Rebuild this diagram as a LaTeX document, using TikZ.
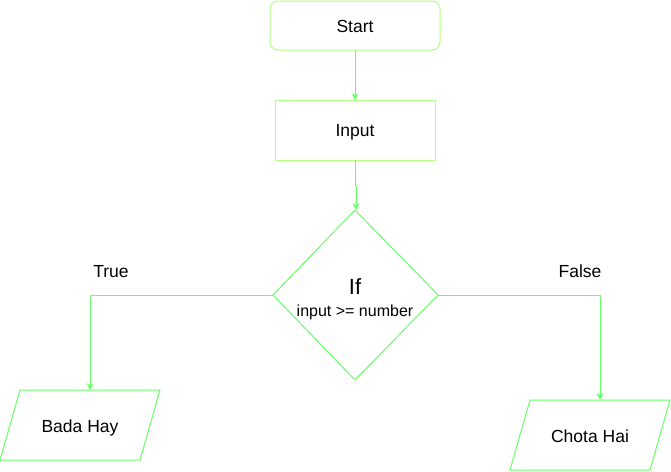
\documentclass[tikz,border=0pt]{standalone}
\usepackage{fontspec}
\setmainfont{Liberation Sans}
\usetikzlibrary{arrows.meta,shapes.geometric}
\definecolor{lg}{HTML}{66FF66}
\definecolor{lgs}{HTML}{B3FF80}
\tikzset{
  conn/.style={draw=lg,line width=1pt,-{Stealth[length=7pt,width=7pt,inset=2.5pt]}},
  lbl/.style={font=\fontsize{17.5}{20}\selectfont,text=black,inner sep=0pt,anchor=base},
}
\begin{document}
\begin{tikzpicture}[x=1pt,y=-1pt]
\useasboundingbox (0,0) rectangle (671,471);
% Start
\draw[lgs,line width=1pt,rounded corners=8pt] (270,1) rectangle (440,50);
\node[lbl] (start) at (355,32) {Start};
\coordinate (startb) at (355,50);
% Input
\draw[lgs,line width=1pt] (275,100) rectangle (435,160);
\node[lbl] (input) at (355,136.5) {Input};
\coordinate (inputt) at (355,100);
\coordinate (inputb) at (355,160);
% Diamond
\draw[lg,line width=1pt] (355,210) -- (438,295) -- (355,380) -- (273,295) -- cycle;
\coordinate (dt) at (355,210);
\coordinate (dl) at (273,295);
\coordinate (dr) at (438,295);
\node[text=black,inner sep=0pt,anchor=base,font=\fontsize{22}{24}\selectfont] (if) at (355,294) {If};
\node[text=black,inner sep=0pt,anchor=base,font=\fontsize{16}{18}\selectfont] (cond) at (355,316.5) {input >= number};
% Bada Hay
\draw[lg,line width=1pt] (20,390) -- (160,390) -- (140,460) -- (0,460) -- cycle;
\node[lbl] (bada) at (80,432) {Bada Hay};
\coordinate (badat) at (90,390);
% Chota Hai
\draw[lg,line width=1pt] (530,400) -- (670,400) -- (650,470) -- (510,470) -- cycle;
\node[lbl] (chota) at (590,442) {Chota Hai};
\coordinate (chotat) at (600,400);
% connectors
\draw[conn] (startb) -- (inputt);
\draw[conn] (inputb) -- (355,185) -- (356,185) -- (356,210);
\draw[conn] (dl) -| (badat);
\draw[conn] (dr) -| (chotat);
% labels
\node[lbl] (true) at (111,277) {True};
\node[lbl] (false) at (580,277) {False};
\end{tikzpicture}
\end{document}
